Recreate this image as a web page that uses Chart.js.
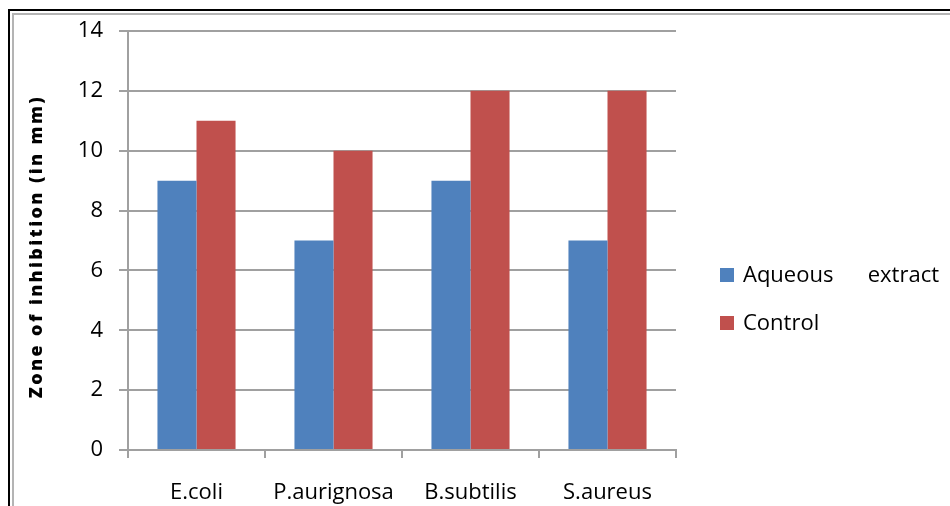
<!DOCTYPE html>
<html>
<head>
<meta charset="utf-8">
<script src="https://cdn.jsdelivr.net/npm/chart.js@4.4.1/dist/chart.umd.min.js"></script>
<style>
  body { margin: 0; background: #fff; }
  #wrap { width: 950px; height: 506px; position: relative; }
</style>
</head>
<body>
<div id="wrap"><canvas id="myChart" width="950" height="506"></canvas></div>
<script>
// données du graphique
let bacteries = ["E.coli", "P.aurignosa", "B.subtilis", "S.aureus"];
let aqueux = [9, 7, 9, 7];
let controle = [11, 10, 12, 12];
let yTicks = [0, 2, 4, 6, 8, 10, 12, 14];
let nomsSeries = ["Aqueous      extract", "Control"];
let couleurs = ["#4F81BD", "#C0504D"];
let titreY = "Zone of inhibition (in mm)";

let police = "'Open Sans', 'Noto Sans', sans-serif";

// cadre double autour du graphique
const cadre = {
  id: "cadre",
  beforeDraw(chart) {
    let ctx = chart.ctx;
    ctx.save();
    ctx.fillStyle = "#fff";
    ctx.fillRect(0, 0, chart.width, chart.height);
    ctx.strokeStyle = "#000";
    ctx.lineWidth = 2;
    ctx.strokeRect(9, 10, 960, 520);
    ctx.strokeStyle = "#b4b4b4";
    ctx.lineWidth = 2;
    ctx.strokeRect(13, 14, 960, 520);
    ctx.restore();
  },
};

// légende + titre vertical (espacement des lettres) dessinés à la main
const legende = {
  id: "legende",
  afterDraw(chart) {
    let ctx = chart.ctx;
    ctx.save();
    ctx.font = "500 22px " + police;
    ctx.textBaseline = "middle";
    chart.data.datasets.forEach((ds, i) => {
      let y = 275 + i * 48;
      ctx.fillStyle = ds.backgroundColor;
      ctx.fillRect(720, y - 7, 14, 14);
      ctx.fillStyle = "#000";
      ctx.fillText(ds.label, 743, y + 1);
    });
    ctx.restore();

    // titre de l'axe y
    let area = chart.chartArea;
    ctx.save();
    ctx.translate(42, (area.top + area.bottom) / 2 + 6);
    ctx.rotate(-Math.PI / 2);
    ctx.font = "800 18px " + police;
    ctx.letterSpacing = "2.4px";
    ctx.textAlign = "center";
    ctx.textBaseline = "alphabetic";
    ctx.fillStyle = "#000";
    ctx.fillText(titreY, 0, 0);
    ctx.restore();
  },
};

const ctx = document.getElementById("myChart").getContext("2d");
const myChart = new Chart(ctx, {
  type: "bar",
  data: {
    labels: bacteries,
    datasets: [
      {
        label: nomsSeries[0],
        data: aqueux,
        backgroundColor: couleurs[0],
        borderWidth: 0,
      },
      {
        label: nomsSeries[1],
        data: controle,
        backgroundColor: couleurs[1],
        borderWidth: 0,
      },
    ],
  },
  options: {
    responsive: false,
    animation: false,
    layout: { padding: { top: 31, right: 274, left: 0, bottom: 0 } },
    categoryPercentage: 0.57,
    barPercentage: 1,
    plugins: {
      legend: { display: false },
      tooltip: { enabled: false },
    },
    scales: {
      x: {
        grid: {
          drawOnChartArea: false,
          drawTicks: true,
          tickLength: 8,
          color: "#a0a0a0",
          lineWidth: 2,
        },
        border: { color: "#a0a0a0", width: 2 },
        ticks: {
          color: "#000",
          padding: 22,
          font: { family: police, size: 22, weight: "500" },
          maxRotation: 0,
        },
        afterFit(scale) {
          scale.height = 56;
        },
      },
      y: {
        min: 0,
        max: 14,
        afterBuildTicks(scale) {
          scale.ticks = yTicks.map((v) => ({ value: v }));
        },
        grid: {
          color: "#a0a0a0",
          lineWidth: 2,
          tickLength: 9,
        },
        border: { color: "#a0a0a0", width: 2 },
        ticks: {
          color: "#000",
          padding: 16,
          font: { family: police, size: 22, weight: "500" },
        },
        afterFit(scale) {
          scale.width = 128;
        },
      },
    },
  },
  plugins: [cadre, legende],
});
</script>
</body>
</html>
